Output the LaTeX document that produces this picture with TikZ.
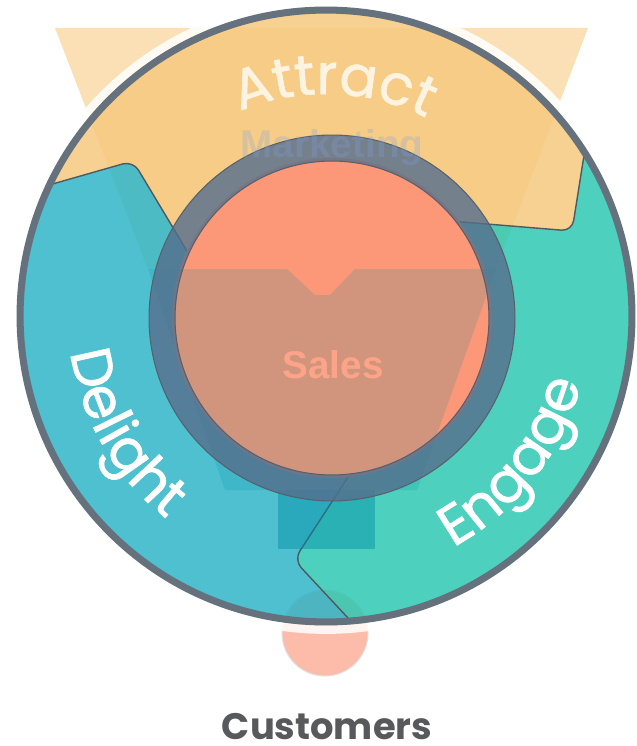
\documentclass[tikz,border=0pt]{standalone}
\usepackage{fontspec}
\setmainfont{Poppins}
\newfontfamily\labelfont{Liberation Sans}
\newfontfamily\stagefamily[FakeBold=1.2]{Poppins}
\usetikzlibrary{decorations.text}

\definecolor{attractorange}{RGB}{245,201,126}
\definecolor{attracttext}{RGB}{253,243,225}
\definecolor{delightblue}{RGB}{47,181,199}
\definecolor{engageteal}{RGB}{47,200,179}
\definecolor{funnelbeige}{RGB}{245,194,106}
\definecolor{funnelteal}{RGB}{0,140,165}
\definecolor{salesred}{RGB}{252,152,119}
\definecolor{saleslabel}{RGB}{253,164,136}
\definecolor{ringslate}{RGB}{85,110,140}
\definecolor{ringline}{RGB}{86,97,107}
\definecolor{rimgray}{RGB}{101,113,124}
\definecolor{seamgray}{RGB}{78,90,98}
\definecolor{marketblue}{RGB}{130,160,225}
\definecolor{custpink}{RGB}{253,187,169}
\definecolor{custgray}{RGB}{88,89,91}

\newcommand\stagefont{\stagefamily\fontsize{32}{36}\selectfont}

\begin{document}
\begin{tikzpicture}[x=0.02cm, y=-0.02cm,
  segment/.style={fill=#1, fill opacity=0.85, rounded corners=6pt},
  seamline/.style={draw=seamgray, line width=0.8pt, rounded corners=6pt},
  ringedge/.style={draw=ringline, line width=0.6pt},
  stagetext/.style={decorate, decoration={text along path, text align=center}}
]
  \useasboundingbox (0,0) rectangle (636,746);

  % ----------------------
  % centri e giunzioni
  % ----------------------
  \coordinate (C) at (326,316);       % ruota esterna
  \coordinate (R) at (332,318);       % anello sales
  \coordinate (adOut) at (0,199);     % attract / delight
  \coordinate (adTip) at (133,161);
  \coordinate (adIn) at (190,256);
  \coordinate (aeOut) at (592,105);   % attract / engage
  \coordinate (aeTip) at (572,231);
  \coordinate (aeIn) at (450,221);
  \coordinate (deOut) at (375,647);   % delight / engage
  \coordinate (deTip) at (294,560);
  \coordinate (deIn) at (350,474);

  % ----------------------
  % cerchio clienti e imbuto
  % ----------------------
  \fill[custpink, draw=black!12, line width=0.6pt] (325,633) circle (0.86cm);
  \fill[funnelbeige, fill opacity=0.5] (55,28) -- (588,28) -- (496,269) -- (355,269)
    -- (330,295) -- (315,295) -- (287,269) -- (148,269) -- cycle;
  \draw[white, opacity=0.85, line width=4.8pt] (C) circle (6.275cm);

  % ----------------------
  % tre settori
  % ----------------------
  \begin{scope}
    \clip (C) circle (6.12cm);
    \fill[segment=attractorange] (0,0) -- (adOut) -- (adTip) -- (adIn) -- (C)
      -- (aeIn) -- (aeTip) -- (aeOut) -- (636,0) -- cycle;
    \fill[segment=delightblue] (adOut) -- (adTip) -- (adIn) -- (C) -- (deIn)
      -- (deTip) -- (deOut) -- (375,746) -- (0,746) -- cycle;
    \fill[segment=engageteal] (C) -- (aeIn) -- (aeTip) -- (aeOut) -- (636,0)
      -- (636,746) -- (375,746) -- (deOut) -- (deTip) -- (deIn) -- cycle;
    \draw[seamline] (adOut) -- (adTip) -- (adIn);
    \draw[seamline] (aeOut) -- (aeTip) -- (aeIn);
    \draw[seamline] (deOut) -- (deTip) -- (deIn);
  \end{scope}

  % ----------------------
  % imbuto: collo e fascia centrale
  % ----------------------
  \fill[funnelteal, fill opacity=0.45] (278,490) rectangle (375,549);
  \fill[salesred] (R) circle (3.2cm);
  \fill[funnelteal, fill opacity=0.17] (148,269) -- (287,269) -- (315,295) -- (330,295)
    -- (355,269) -- (496,269) -- (417,490) -- (225,490) -- cycle;

  % ----------------------
  % anello e bordo
  % ----------------------
  \fill[ringslate, fill opacity=0.8, even odd rule] (R) circle (3.66cm) (R) circle (3.14cm);
  \draw[ringedge] (R) circle (3.66cm) (R) circle (3.14cm);
  \draw[rimgray, line width=4pt] (C) circle (6.12cm);

  % ----------------------
  % testi
  % ----------------------
  \path[stagetext, decoration={text={|\stagefont\color{attracttext}|Attract}}]
    (C) ++(128:4.44cm) arc[start angle=128, end angle=48, radius=4.44cm];
  \path[stagetext, decoration={text={|\stagefont\color{white}|Delight}}]
    (C) ++(170:5.16cm) arc[start angle=170, end angle=250, radius=5.16cm];
  \path[stagetext, decoration={text={|\stagefont\color{white}|Engage}}]
    (C) ++(-78:5.28cm) arc[start angle=-78, end angle=2, radius=5.28cm];

  \node[font=\labelfont\bfseries\fontsize{22}{24}\selectfont, text=marketblue,
    text opacity=0.28, anchor=base] (marketing) at (332,158) {Marketing};
  \node[font=\labelfont\bfseries\fontsize{22}{24}\selectfont, text=saleslabel,
    anchor=base] (sales) at (333,378) {Sales};
  \node[font=\bfseries\fontsize{21}{24}\selectfont, text=custgray, anchor=base,
    inner sep=0pt] (customers) at (327,739) {Customers};
\end{tikzpicture}
\end{document}
